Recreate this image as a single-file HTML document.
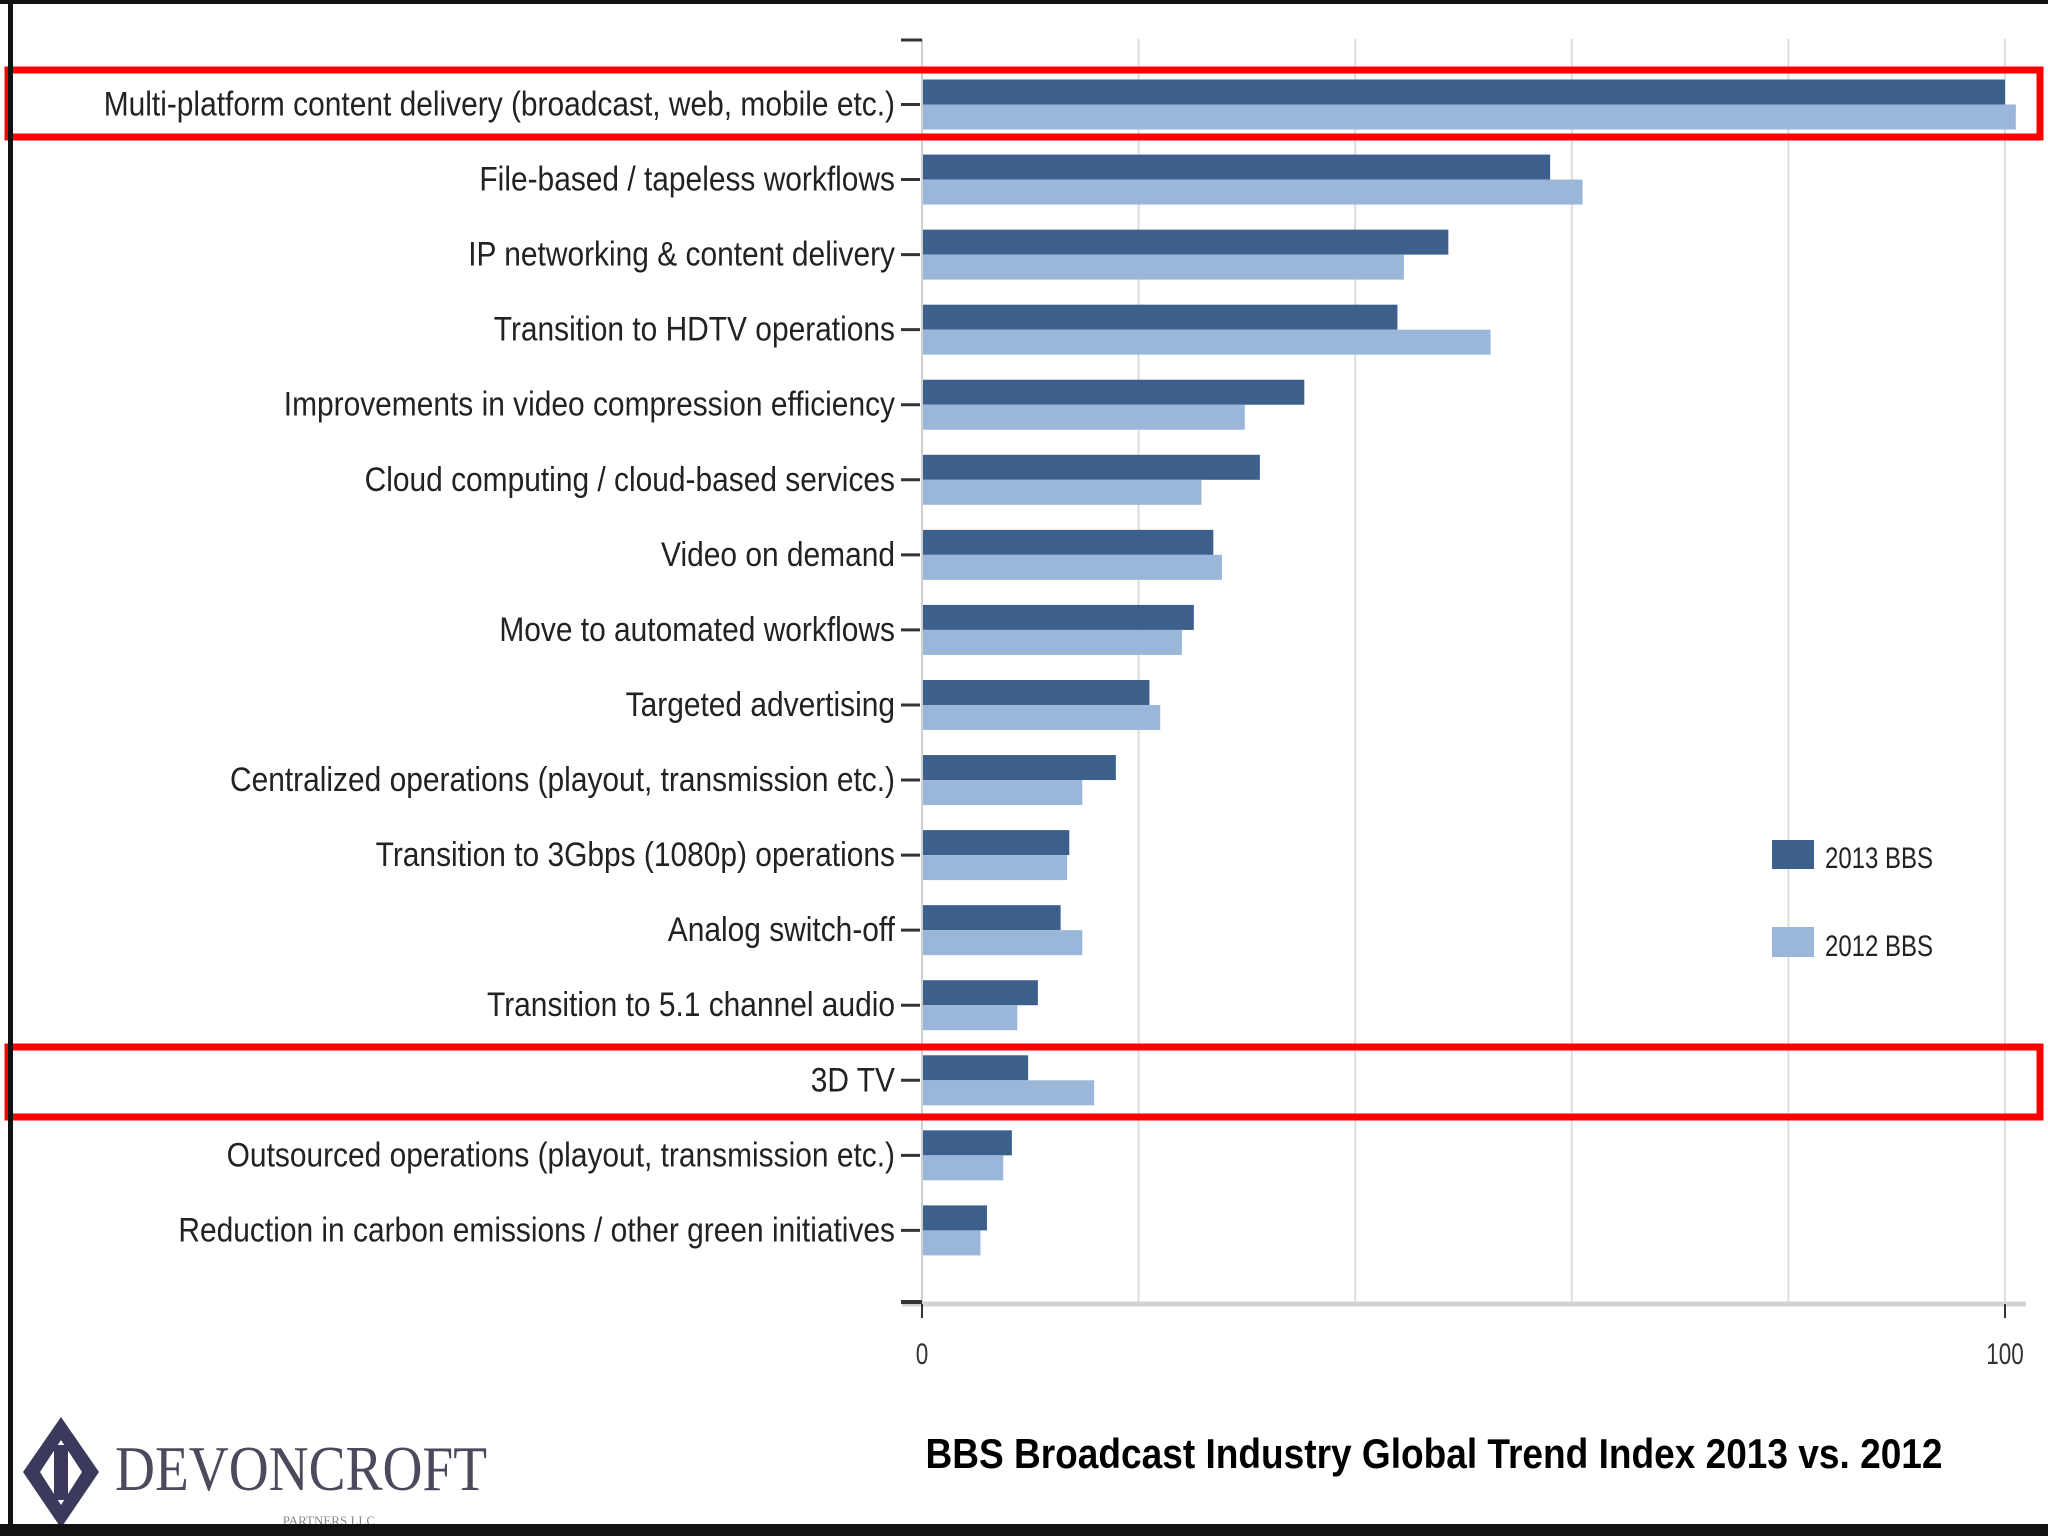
<!DOCTYPE html>
<html><head><meta charset="utf-8"><style>
html,body{margin:0;padding:0;background:#fff}
svg{display:block}
</style></head><body>
<svg id="chart" width="2048" height="1536" viewBox="0 0 2048 1536" xmlns="http://www.w3.org/2000/svg" font-family="'Liberation Sans', sans-serif">
<rect x="0" y="0" width="2048" height="1536" fill="#fff"/>
<g id="grid"></g>
<g id="bars"></g>
<g id="labels"></g>
<g id="axis"></g>
<rect x="8" y="70" width="2032" height="67" fill="none" stroke="#f00" stroke-width="7"/>
<rect x="8" y="1047" width="2032" height="70" fill="none" stroke="#f00" stroke-width="7"/>
<g>
<rect x="1772" y="840" width="42" height="29" fill="#3d5f8c"/>
<text x="0" y="0" font-size="30" fill="#222" transform="translate(1825,868) scale(0.8,1)">2013 BBS</text>
<rect x="1772" y="927" width="42" height="30" fill="#9ab7da"/>
<text x="0" y="0" font-size="30" fill="#222" transform="translate(1825,956) scale(0.8,1)">2012 BBS</text>
</g>
<text x="1434" y="1468" font-size="42" font-weight="bold" fill="#000" text-anchor="middle" textLength="1017" lengthAdjust="spacingAndGlyphs">BBS Broadcast Industry Global Trend Index 2013 vs. 2012</text>
<g>
<polygon points="61,1417 99,1472 61,1528 23,1472" fill="#3c3a5c"/>
<polygon points="61,1440 82,1472 61,1505 40,1472" fill="#fff"/>
<rect x="54" y="1445" width="14" height="55" fill="#3c3a5c"/>
<text x="115" y="1490" font-family="'Liberation Serif', serif" font-size="64" fill="#4a4a5c" textLength="372" lengthAdjust="spacingAndGlyphs">DEVONCROFT</text>
<text x="375" y="1525" font-family="'Liberation Serif', serif" font-size="13" fill="#888" text-anchor="end">PARTNERS LLC</text>
</g>
<rect x="8" y="0" width="5" height="1536" fill="#111"/>
<rect x="0" y="0" width="2048" height="4" fill="#111"/>
<rect x="0" y="1524" width="2048" height="12" fill="#111"/>
</svg>
<script>
const categories = ["Multi-platform content delivery (broadcast, web, mobile etc.)","File-based  / tapeless workflows","IP networking & content delivery","Transition to HDTV operations","Improvements in video compression efficiency","Cloud computing / cloud-based services","Video on demand","Move to automated workflows","Targeted advertising","Centralized operations (playout, transmission etc.)","Transition to 3Gbps (1080p) operations","Analog switch-off","Transition to 5.1 channel audio","3D TV","Outsourced operations (playout, transmission etc.)","Reduction in carbon emissions / other green initiatives"];
const values2013 = [100,58,48.6,43.9,35.3,31.2,26.9,25.1,21,17.9,13.6,12.8,10.7,9.8,8.3,6.0];
const values2012 = [101,61,44.5,52.5,29.8,25.8,27.7,24.0,22,14.8,13.4,14.8,8.8,15.9,7.5,5.4];
const xTicks = [0,100];
const gridValues = [20,40,60,80,100];

const NS="http://www.w3.org/2000/svg";
const x0=922, x100=2005;
const xs=v=>x0+(x100-x0)*v/100;
const yc=i=>104.5+75.06*i;
const barH=25;
function mk(tag,attrs,parent){const e=document.createElementNS(NS,tag);for(const k in attrs)e.setAttribute(k,attrs[k]);parent.appendChild(e);return e;}
const grid=document.getElementById('grid'),bars=document.getElementById('bars'),labels=document.getElementById('labels'),axis=document.getElementById('axis');
gridValues.forEach(v=>{const l=mk('line',{x1:xs(v),x2:xs(v),y1:39,y2:1304,stroke:'#dcdcdc','stroke-width':2},grid);

});
const yl=mk('line',{x1:x0,x2:x0,y1:39,y2:1304,stroke:'#cfcfcf','stroke-width':2},axis);


const tt=mk('line',{x1:901,x2:922,y1:40,y2:40,stroke:'#333','stroke-width':3},axis);


categories.forEach((c,i)=>{
  const y=yc(i);
  const b1=mk('rect',{x:x0,y:y-barH,width:xs(values2013[i])-x0,height:barH,fill:'#3d5f8c'},bars);
  
  
  const b2=mk('rect',{x:x0,y:y,width:xs(values2012[i])-x0,height:barH,fill:'#9ab7da'},bars);
  
  
  const tk=mk('line',{x1:901,x2:920,y1:y,y2:y,stroke:'#333','stroke-width':3},labels);
  
  
  const t=mk('text',{x:0,y:0,'font-size':34,fill:'#222','text-anchor':'end',transform:`translate(895,${y+11}) scale(0.88,1)`},labels);
  t.textContent=c;
  
  
});
const xl=mk('line',{x1:902,x2:2026,y1:1304,y2:1304,stroke:'#d4d4d4','stroke-width':5},axis);


const bt=mk('line',{x1:901,x2:922,y1:1302,y2:1302,stroke:'#333','stroke-width':4},axis);


xTicks.forEach(v=>{
  const l=mk('line',{x1:xs(v),x2:xs(v),y1:1304,y2:1318,stroke:'#333','stroke-width':2},axis);
  
  
  const t=mk('text',{x:0,y:0,'font-size':30,fill:'#333','text-anchor':'middle',transform:`translate(${xs(v)},1364) scale(0.75,1)`},axis);
  t.textContent=String(v);
  
  
});
</script>
</body></html>
